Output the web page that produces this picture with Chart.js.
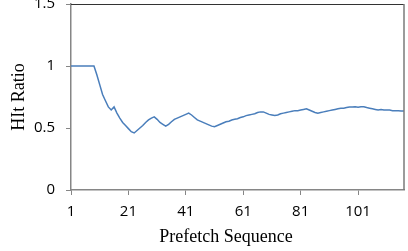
<!DOCTYPE html>
<html><head><meta charset="utf-8">
<script src="https://cdn.jsdelivr.net/npm/chart.js@4/dist/chart.umd.min.js"></script>
<style>html,body{margin:0;padding:0;background:#fff}#wrap{width:408px;height:251px;position:relative}</style>
</head><body><div id="wrap"><canvas id="c"></canvas></div>
<script>
// Categories: prefetch sequence numbers 1..117
const sequence = Array.from({length: 117}, (_, i) => i + 1);
// Hit ratio values
const hitRatio = [
  1.00, 1.00, 1.00, 1.00, 1.00, 1.00, 1.00, 1.00, 1.00, 0.93,
  0.85, 0.77, 0.72, 0.67, 0.645, 0.67, 0.62, 0.58, 0.545, 0.52,
  0.495, 0.47, 0.46, 0.48, 0.50, 0.52, 0.545, 0.565, 0.58, 0.59,
  0.57, 0.545, 0.53, 0.515, 0.53, 0.55, 0.57, 0.58, 0.59, 0.60,
  0.61, 0.62, 0.605, 0.585, 0.565, 0.555, 0.545, 0.535, 0.525, 0.515,
  0.51, 0.52, 0.53, 0.54, 0.55, 0.555, 0.565, 0.57, 0.575, 0.585,
  0.59, 0.60, 0.605, 0.61, 0.615, 0.625, 0.63, 0.63, 0.62, 0.61,
  0.605, 0.60, 0.605, 0.615, 0.62, 0.625, 0.63, 0.635, 0.64, 0.64,
  0.645, 0.65, 0.655, 0.645, 0.635, 0.625, 0.62, 0.625, 0.63, 0.635,
  0.64, 0.645, 0.65, 0.655, 0.66, 0.66, 0.665, 0.67, 0.67, 0.672,
  0.668, 0.672, 0.672, 0.665, 0.66, 0.655, 0.65, 0.645, 0.65, 0.645,
  0.645, 0.645, 0.64, 0.64, 0.64, 0.638, 0.637
];
const xTickLabels = [1, 21, 41, 61, 81, 101];
const yTickLabels = [0, 0.5, 1, 1.5];
const xTitle = 'Prefetch Sequence';
const yTitle = 'HIt Ratio';

const tickFont = {family: '"Open Sans", sans-serif', size: 15};
const titleFont = {family: '"Liberation Serif", serif', size: 18};

const frame = {
  id: 'frame',
  afterDraw(chart) {
    const {ctx, chartArea: a} = chart;
    ctx.save();
    ctx.strokeStyle = '#333';
    ctx.lineWidth = 1;
    ctx.beginPath();
    ctx.moveTo(a.left, a.top + 0.5);
    ctx.lineTo(a.right, a.top + 0.5);
    ctx.stroke();
    ctx.strokeStyle = '#7a7a7a';
    ctx.lineWidth = 1.5;
    ctx.beginPath();
    ctx.moveTo(a.right, a.top);
    ctx.lineTo(a.right, a.bottom);
    ctx.stroke();
    // x axis title
    ctx.fillStyle = '#000';
    ctx.font = titleFont.size + 'px ' + titleFont.family;
    ctx.textAlign = 'center';
    ctx.textBaseline = 'middle';
    ctx.fillText(xTitle, 226, 237);
    ctx.restore();
  }
};

new Chart(document.getElementById('c'), {
  type: 'line',
  data: {
    labels: sequence,
    datasets: [{
      data: hitRatio,
      borderColor: '#4a7ebb',
      borderWidth: 1.5,
      pointRadius: 0,
      tension: 0,
      fill: false
    }]
  },
  options: {
    responsive: true,
    maintainAspectRatio: false,
    animation: false,
    devicePixelRatio: 1,
    layout: {padding: {top: 4, right: 4, left: 0, bottom: 0}},
    plugins: {legend: {display: false}, tooltip: {enabled: false}},
    scales: {
      x: {
        type: 'linear',
        min: 1,
        max: 117,
        afterBuildTicks: s => { s.ticks = xTickLabels.map(v => ({value: v})); },
        afterFit: s => { s.height = 61; s.paddingLeft = 0; s.paddingRight = 0; },
        ticks: {font: tickFont, color: '#000', padding: 8, maxRotation: 0, autoSkip: false,
                callback: v => String(v)},
        grid: {drawOnChartArea: false, drawTicks: true, tickLength: 5, color: '#868686', lineWidth: 1},
        border: {color: '#868686', width: 1.5},
        title: {display: false}
      },
      y: {
        min: 0,
        max: 1.5,
        afterBuildTicks: s => { s.ticks = yTickLabels.map(v => ({value: v})); },
        afterFit: s => { s.width = 71; s.paddingTop = 0; s.paddingBottom = 0; },
        ticks: {font: tickFont, color: '#000', padding: 11, callback: v => String(v)},
        grid: {drawOnChartArea: false, drawTicks: true, tickLength: 5, color: '#868686', lineWidth: 1},
        border: {color: '#868686', width: 1.5},
        title: {display: true, text: yTitle, font: titleFont, color: '#000', padding: {top: 8, bottom: 0}}
      }
    }
  },
  plugins: [frame]
});
</script>
</body></html>
